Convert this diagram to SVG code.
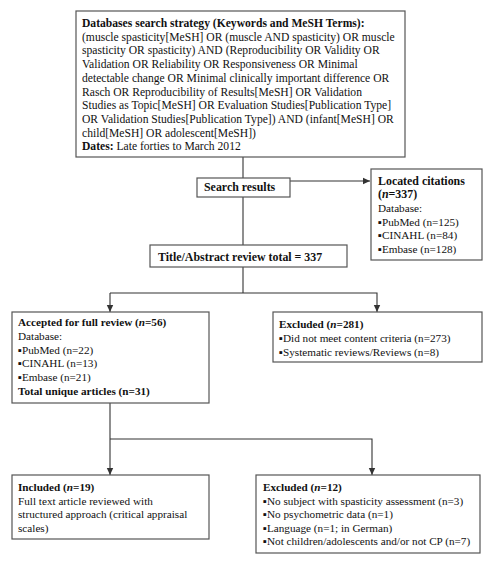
<svg xmlns="http://www.w3.org/2000/svg" width="501" height="562" viewBox="0 0 501 562">
<defs>
<marker id="arr" markerWidth="8" markerHeight="8" refX="7" refY="4" orient="auto" markerUnits="userSpaceOnUse">
<path d="M0,0.8 L7,4 L0,7.2 Z" fill="#333"/>
</marker>
<style>
.box{fill:#fff;stroke:#555;stroke-width:1.2}
.t{font-family:"Liberation Serif","Times New Roman",serif;font-size:11.2px;fill:#111}
.top{font-size:11.6px}
.mid{font-size:11.9px}
.b{font-weight:bold}
.ln{fill:none;stroke:#333;stroke-width:1.1}
</style>
</defs>
<rect width="501" height="562" fill="#fff"/>
<g id="connectors">
<line class="ln" x1="243" y1="157" x2="243" y2="178"/>
<line class="ln" x1="243" y1="197" x2="243" y2="245"/>
<line class="ln" x1="290" y1="181" x2="370" y2="181" marker-end="url(#arr)"/>
<line class="ln" x1="243" y1="267" x2="243" y2="293"/>
<polyline class="ln" points="110,293 377,293 377,312" marker-end="url(#arr)"/>
<line class="ln" x1="110" y1="293" x2="110" y2="312" marker-end="url(#arr)"/>
<line class="ln" x1="110" y1="403" x2="110" y2="475" marker-end="url(#arr)"/>
<polyline class="ln" points="110,439 372,439 372,475" marker-end="url(#arr)"/>
</g>
<g id="search-strategy">
<rect class="box" x="76" y="11" width="329" height="146"/>
<text class="t top b" x="82" y="27">Databases search strategy (Keywords and MeSH Terms):</text>
<text class="t top" x="82" y="40.7">(muscle spasticity[MeSH] OR (muscle AND spasticity) OR muscle</text>
<text class="t top" x="82" y="54.4">spasticity OR spasticity) AND (Reproducibility OR Validity OR</text>
<text class="t top" x="82" y="68">Validation OR Reliability OR Responsiveness OR Minimal</text>
<text class="t top" x="82" y="81.8">detectable change OR Minimal clinically important difference OR</text>
<text class="t top" x="82" y="95.5">Rasch OR Reproducibility of Results[MeSH] OR Validation</text>
<text class="t top" x="82" y="109.2">Studies as Topic[MeSH] OR Evaluation Studies[Publication Type]</text>
<text class="t top" x="82" y="122.9">OR Validation Studies[Publication Type]) AND (infant[MeSH] OR</text>
<text class="t top" x="82" y="136.6">child[MeSH] OR adolescent[MeSH])</text>
<text class="t top" x="82" y="150.3"><tspan class="b">Dates:</tspan> Late forties to March 2012</text>
</g>
<g id="search-results">
<rect class="box" x="197" y="178" width="93" height="19"/>
<text class="t mid b" x="204" y="191">Search results</text>
</g>
<g id="located-citations">
<rect class="box" x="371" y="169" width="111" height="91"/>
<text class="t mid b" x="378" y="185">Located citations</text>
<text class="t mid b" x="378" y="198">(<tspan font-style="italic">n</tspan>=337)</text>
<text class="t" x="378" y="212">Database:</text>
<text class="t" x="378" y="225.5">▪PubMed (n=125)</text>
<text class="t" x="378" y="239">▪CINAHL (n=84)</text>
<text class="t" x="378" y="252.5">▪Embase (n=128)</text>
</g>
<g id="title-abstract">
<rect class="box" x="150" y="245" width="197" height="22"/>
<text class="t mid b" x="158" y="261">Title/Abstract review total = 337</text>
</g>
<g id="accepted">
<rect class="box" x="12" y="312" width="197" height="91"/>
<text class="t b" x="18" y="326">Accepted for full review (<tspan font-style="italic">n</tspan>=56)</text>
<text class="t" x="18" y="340">Database:</text>
<text class="t" x="18" y="353.5">▪PubMed (n=22)</text>
<text class="t" x="18" y="367">▪CINAHL (n=13)</text>
<text class="t" x="18" y="381">▪Embase (n=21)</text>
<text class="t b" x="18" y="395">Total unique articles (n=31)</text>
</g>
<g id="excluded-281">
<rect class="box" x="273" y="312" width="209" height="50"/>
<text class="t b" x="279" y="328">Excluded (<tspan font-style="italic">n</tspan>=281)</text>
<text class="t" x="279" y="342">▪Did not meet content criteria (n=273)</text>
<text class="t" x="279" y="356">▪Systematic reviews/Reviews (n=8)</text>
</g>
<g id="included">
<rect class="box" x="12" y="475" width="197" height="64"/>
<text class="t b" x="18" y="491">Included (<tspan font-style="italic">n</tspan>=19)</text>
<text class="t" x="18" y="504.5">Full text article reviewed with</text>
<text class="t" x="18" y="518">structured approach (critical appraisal</text>
<text class="t" x="18" y="531.5">scales)</text>
</g>
<g id="excluded-12">
<rect class="box" x="256" y="475" width="224" height="78"/>
<text class="t b" x="263" y="491">Excluded (<tspan font-style="italic">n</tspan>=12)</text>
<text class="t" x="263" y="504.5">▪No subject with spasticity assessment (n=3)</text>
<text class="t" x="263" y="518">▪No psychometric data (n=1)</text>
<text class="t" x="263" y="531.5">▪Language (n=1; in German)</text>
<text class="t" x="263" y="545">▪Not children/adolescents and/or not CP (n=7)</text>
</g>
</svg>
